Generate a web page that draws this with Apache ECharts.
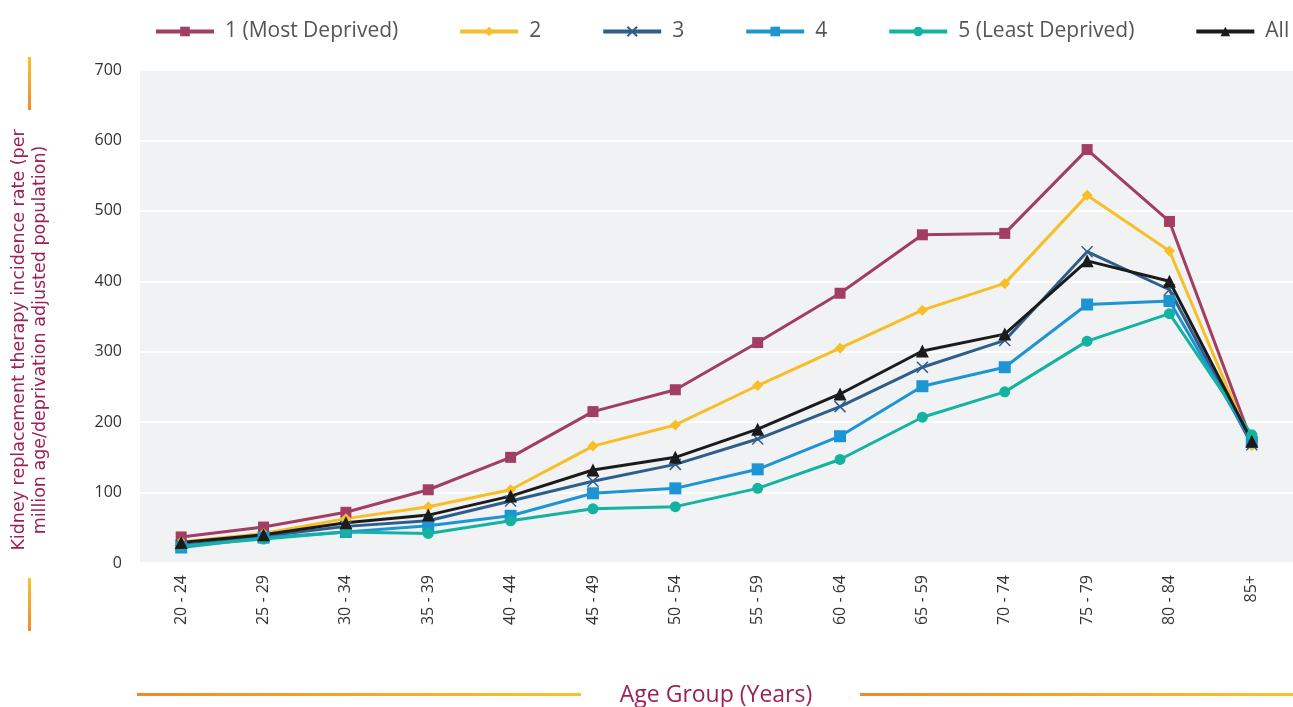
<!DOCTYPE html>
<html>
<head>
<meta charset="utf-8">
<script src="https://cdn.jsdelivr.net/npm/echarts@6/dist/echarts.min.js"></script>
<style>
  html, body { margin: 0; padding: 0; background: #fff; }
  #chart { width: 1293px; height: 707px; }
</style>
</head>
<body>
<div id="chart"></div>
<script>
// age groups (labels kept as printed, incl. "65 - 59")
var ageGroups = ['20 - 24', '25 - 29', '30 - 34', '35 - 39', '40 - 44', '45 - 49', '50 - 54',
                 '55 - 59', '60 - 64', '65 - 59', '70 - 74', '75 - 79', '80 - 84', '85+'];

var q1  = [37, 51, 72, 104, 150, 215, 246, 313, 383, 466, 468, 587, 485, 172];
var q2  = [30, 42, 63, 80, 104, 166, 196, 252, 305, 359, 397, 522, 443, 167];
var q3  = [25, 38, 52, 60, 88, 116, 140, 176, 222, 278, 316, 442, 388, 168];
var q4  = [22, 36, 44, 53, 67, 99, 106, 133, 180, 251, 278, 367, 372, 172];
var q5  = [24, 34, 44, 42, 60, 77, 80, 106, 147, 207, 243, 315, 354, 182];
var all = [29, 40, 57, 68, 95, 132, 150, 190, 240, 301, 325, 429, 400, 173];

var yTicks = { min: 0, max: 700, step: 100 };

var chart = echarts.init(document.getElementById('chart'));

function mk(name, data, color, symbol, size, extra) {
    var s = {
        name: name,
        type: 'line',
        data: data,
        symbol: symbol,
        symbolSize: size,
        showSymbol: true,
        lineStyle: { color: color, width: 3 },
        itemStyle: { color: color },
        emphasis: { disabled: true }
    };
    return Object.assign(s, extra || {});
}

var crossPath = 'path://M0,0L10,10M10,0L0,10';

var vGrad = function () {
    return new echarts.graphic.LinearGradient(0, 0, 0, 1, [
        { offset: 0, color: '#f5c42c' }, { offset: 1, color: '#f0892e' }
    ]);
};
var hGrad = function () {
    return new echarts.graphic.LinearGradient(0, 0, 1, 0, [
        { offset: 0, color: '#f0892e' }, { offset: 1, color: '#f5c42c' }
    ]);
};

var option = {
    animation: false,
    backgroundColor: '#fff',
    grid: { left: 140, right: 0, top: 70, bottom: 144 },
    legend: {
        top: 16,
        left: 149,
        width: 1144,
        itemWidth: 58,
        itemHeight: 12,
        itemGap: 60,
        lineStyle: { width: 4 },
        textStyle: { fontFamily: 'Open Sans', fontSize: 21, color: '#555', padding: [0, 0, 0, 6] },
        data: ['1 (Most Deprived)', '2', '3', '4', '5 (Least Deprived)', 'All']
    },
    xAxis: {
        type: 'category',
        data: ageGroups,
        boundaryGap: true,
        axisLine: { show: false },
        axisTick: { show: false },
        axisLabel: {
            rotate: 90,
            interval: 0,
            margin: 12,
            fontFamily: 'Open Sans',
            fontSize: 16,
            color: '#333'
        }
    },
    yAxis: {
        type: 'value',
        min: yTicks.min,
        max: yTicks.max,
        interval: yTicks.step,
        axisLine: { show: false },
        axisTick: { show: false },
        splitLine: { lineStyle: { color: '#ffffff', width: 2 } },
        splitArea: { show: false },
        axisLabel: { fontFamily: 'Open Sans', fontSize: 16, color: '#333', margin: 18 }
    },
    series: [
        mk('1 (Most Deprived)', q1, '#a23d63', 'rect', 11),
        mk('2', q2, '#f6be27', 'diamond', 11),
        mk('3', q3, '#2e5f8c', crossPath, 11, {
            itemStyle: { color: '#2e5f8c', borderColor: '#2e5f8c', borderWidth: 1.5 },
            lineStyle: { color: '#2e5f8c', width: 3 }
        }),
        mk('4', q4, '#1e95d3', 'rect', 12),
        mk('5 (Least Deprived)', q5, '#14b3a1', 'circle', 11),
        mk('All', all, '#1b1b1b', 'triangle', 13)
    ],
    graphic: [
        { type: 'rect', z: -1, shape: { x: 140, y: 70, width: 1153, height: 493 }, style: { fill: '#f1f2f4' } },
        { type: 'rect', shape: { x: 28, y: 57, width: 3, height: 53 }, style: { fill: vGrad() } },
        { type: 'rect', shape: { x: 28, y: 578, width: 3, height: 53 }, style: { fill: vGrad() } },
        { type: 'rect', shape: { x: 137, y: 693, width: 444, height: 3 }, style: { fill: hGrad() } },
        { type: 'rect', shape: { x: 860, y: 693, width: 433, height: 3 }, style: { fill: hGrad() } },
        {
            type: 'text', x: 30, y: 340, rotation: Math.PI / 2,
            style: {
                text: 'Kidney replacement therapy incidence rate (per\nmillion age/deprivation adjusted population)',
                fontFamily: 'DejaVu Sans', fontSize: 17.5, lineHeight: 21, fill: '#9b2257',
                align: 'center', verticalAlign: 'middle'
            }
        },
        {
            type: 'text', x: 716, y: 695,
            style: {
                text: 'Age Group (Years)', fontFamily: 'Open Sans', fontSize: 23, fontWeight: 500,
                fill: '#9b2257', align: 'center', verticalAlign: 'middle'
            }
        }
    ]
};

chart.setOption(option);
</script>
</body>
</html>
